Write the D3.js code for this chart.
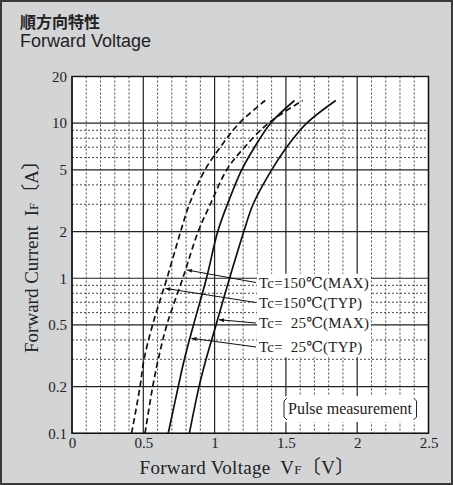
<!DOCTYPE html>
<html>
<head>
<meta charset="utf-8">
<script src="https://cdn.jsdelivr.net/npm/d3@7"></script>
<style>
  body { margin: 0; background: #d3d4d6; }
  svg { display: block; }
</style>
</head>
<body>
<svg id="chart" width="453" height="485"></svg>
<script>
const currents = [0.1, 0.2, 0.3, 0.5, 1, 2, 3, 5, 7, 10, 14];

// forward voltage of each curve at those currents (V)
const vf150Max = [0.512, 0.566, 0.605, 0.665, 0.777, 0.885, 0.97, 1.085, 1.21, 1.377, 1.618];
const vf150Typ = [0.418, 0.477, 0.505, 0.565, 0.666, 0.762, 0.823, 0.933, 1.04, 1.173, 1.355];
const vf25Max = [0.823, 0.891, 0.94, 1.01, 1.105, 1.205, 1.27, 1.4, 1.505, 1.646, 1.85];
const vf25Typ = [0.675, 0.745, 0.788, 0.852, 0.943, 1.022, 1.09, 1.19, 1.28, 1.393, 1.56];

const seriesNames = ["Tc=150℃(MAX)", "Tc=150℃(TYP)", "Tc=  25℃(MAX)", "Tc=  25℃(TYP)"];
const seriesValues = [vf150Max, vf150Typ, vf25Max, vf25Typ];
const seriesDashed = [true, true, false, false];
// current at which each leader line touches its curve (A)
const leaderCurrents = [1.13, 0.86, 0.54, 0.41];

const xTicks = [0, 0.5, 1, 1.5, 2, 2.5];
const xMinor = [0.1, 0.2, 0.3, 0.4, 0.6, 0.7, 0.8, 0.9, 1.1, 1.2, 1.3, 1.4,
  1.6, 1.7, 1.8, 1.9, 2.1, 2.2, 2.3, 2.4];
const yTicks = [0.1, 0.2, 0.5, 1, 2, 5, 10, 20];
const yMinor = [0.3, 0.4, 0.6, 0.7, 0.8, 0.9, 3, 4, 6, 7, 8, 9];

const svg = d3.select("#chart");
const W = 453, H = 485;
const plot = { left: 72, right: 428.5, top: 76.5, bottom: 433.3 };

const serif = "'Liberation Serif', 'DejaVu Serif', 'Noto Sans CJK JP', serif";
const ink = "#222";

// outer panel
svg.append("rect")
  .attr("x", 1).attr("y", 1)
  .attr("width", W - 2).attr("height", H - 2)
  .attr("fill", "#d3d4d6")
  .attr("stroke", "#3a3a3a")
  .attr("stroke-width", 2);

// titles
svg.append("text")
  .attr("x", 20).attr("y", 28)
  .style("font-family", "'Noto Sans CJK JP', sans-serif")
  .style("font-weight", "bold")
  .style("font-size", "16px")
  .style("fill", ink)
  .text("順方向特性");

svg.append("text")
  .attr("x", 20).attr("y", 47)
  .style("font-family", "'Liberation Sans', Arial, sans-serif")
  .style("font-size", "18px")
  .style("fill", ink)
  .text("Forward Voltage");

// scales
const x = d3.scaleLinear().domain([0, 2.5]).range([plot.left, plot.right]);
const y = d3.scaleLog().domain([0.1, 20]).range([plot.bottom, plot.top]);

// plot background
svg.append("rect")
  .attr("x", plot.left).attr("y", plot.top)
  .attr("width", plot.right - plot.left)
  .attr("height", plot.bottom - plot.top)
  .attr("fill", "#fff");

// grid
const grid = svg.append("g");
grid.selectAll(".xminor").data(xMinor).enter().append("line")
  .attr("x1", (d) => x(d)).attr("x2", (d) => x(d))
  .attr("y1", plot.top).attr("y2", plot.bottom)
  .attr("stroke", "#333").attr("stroke-width", 0.9)
  .attr("stroke-dasharray", "2,2");
grid.selectAll(".yminor").data(yMinor).enter().append("line")
  .attr("x1", plot.left).attr("x2", plot.right)
  .attr("y1", (d) => y(d)).attr("y2", (d) => y(d))
  .attr("stroke", "#333").attr("stroke-width", 0.9)
  .attr("stroke-dasharray", "2,2");
grid.selectAll(".xmajor").data(xTicks).enter().append("line")
  .attr("x1", (d) => x(d)).attr("x2", (d) => x(d))
  .attr("y1", plot.top).attr("y2", plot.bottom)
  .attr("stroke", ink).attr("stroke-width", 1.2);
grid.selectAll(".ymajor").data(yTicks).enter().append("line")
  .attr("x1", plot.left).attr("x2", plot.right)
  .attr("y1", (d) => y(d)).attr("y2", (d) => y(d))
  .attr("stroke", ink).attr("stroke-width", 1.2);

// curves
const line = d3.line()
  .x((d) => x(d[0]))
  .y((d) => y(d[1]))
  .curve(d3.curveCatmullRom.alpha(0.5));

svg.append("g").selectAll("path")
  .data(seriesValues)
  .enter().append("path")
  .attr("d", (vals) => line(vals.map((v, i) => [v, currents[i]])))
  .attr("fill", "none")
  .attr("stroke", "#111")
  .attr("stroke-width", 1.7)
  .attr("stroke-dasharray", (d, i) => (seriesDashed[i] ? "6,3.5" : null));

// labels with leader lines
svg.append("defs").append("marker")
  .attr("id", "arrow")
  .attr("viewBox", "0 0 10 10")
  .attr("refX", 10).attr("refY", 5)
  .attr("markerWidth", 6).attr("markerHeight", 5)
  .attr("markerUnits", "userSpaceOnUse")
  .attr("orient", "auto")
  .append("path")
  .attr("d", "M0,1 L10,5 L0,9 Z")
  .attr("fill", "#111");

const labelX = 259;
const labelRows = [282.5, 302.5, 323, 347];

const labelBg = svg.append("rect").attr("fill", "#fff");
const labels = svg.append("g");
seriesNames.forEach((name, i) => {
  labels.append("text")
    .attr("x", labelX).attr("y", labelRows[i])
    .attr("dy", "0.35em")
    .style("font-family", serif)
    .style("font-size", "15px")
    .style("letter-spacing", "0.2px")
    .style("fill", ink)
    .style("white-space", "pre")
    .text(name);
});
const lb = labels.node().getBBox();
labelBg
  .attr("x", lb.x - 2).attr("y", lb.y - 1)
  .attr("width", lb.width + 4).attr("height", lb.height + 2);

seriesNames.forEach((name, i) => {
  const vAt = d3.scaleLog().domain(currents).range(seriesValues[i]);
  const tipI = leaderCurrents[i];
  svg.append("line")
    .attr("x1", labelX - 3).attr("y1", labelRows[i])
    .attr("x2", x(vAt(tipI)) + 1.5).attr("y2", y(tipI))
    .attr("stroke", "#111")
    .attr("stroke-width", 1)
    .attr("marker-end", "url(#arrow)");
});

// pulse measurement note
const note = svg.append("g");
const noteText = note.append("text")
  .attr("x", 350).attr("y", 414)
  .attr("text-anchor", "middle")
  .style("font-family", serif)
  .style("font-size", "16px")
  .style("fill", ink)
  .text("Pulse measurement");
const nb = noteText.node().getBBox();
const nL = nb.x - 4, nR = nb.x + nb.width + 4, nT = nb.y - 2, nB = nb.y + nb.height + 3;
note.insert("rect", "text")
  .attr("x", nL - 2).attr("y", nT - 2)
  .attr("width", nR - nL + 4).attr("height", nB - nT + 4)
  .attr("fill", "#fff");
note.append("path")
  .attr("d", `M${nL + 3},${nT} L${nL},${nT + 3} L${nL},${nB - 3} L${nL + 3},${nB}` +
    ` M${nR - 3},${nT} L${nR},${nT + 3} L${nR},${nB - 3} L${nR - 3},${nB}`)
  .attr("fill", "none")
  .attr("stroke", ink)
  .attr("stroke-width", 1);

// plot frame
svg.append("rect")
  .attr("x", plot.left).attr("y", plot.top)
  .attr("width", plot.right - plot.left)
  .attr("height", plot.bottom - plot.top)
  .attr("fill", "none")
  .attr("stroke", "#111")
  .attr("stroke-width", 1.4);

// axes (labels only)
const fmt = (d) => String(d);
const xAxis = svg.append("g")
  .attr("transform", `translate(0,${plot.bottom})`)
  .call(d3.axisBottom(x).tickValues(xTicks).tickSize(0).tickPadding(4).tickFormat(fmt));
const yAxis = svg.append("g")
  .attr("transform", `translate(${plot.left},0)`)
  .call(d3.axisLeft(y).tickValues(yTicks).tickSize(0).tickPadding(5).tickFormat(fmt));
[xAxis, yAxis].forEach((g) => {
  g.select(".domain").remove();
  g.selectAll("text")
    .style("font-family", serif)
    .style("font-size", "15px")
    .style("fill", ink);
});

// axis titles
const xTitle = svg.append("text")
  .attr("x", 247).attr("y", 474)
  .attr("text-anchor", "middle")
  .style("font-family", serif)
  .style("font-size", "19px")
  .style("letter-spacing", "0.3px")
  .style("fill", ink)
  .style("white-space", "pre");
xTitle.append("tspan").text("Forward Voltage  V");
xTitle.append("tspan").style("font-size", "13px").text("F");
xTitle.append("tspan").text("〔V〕");

const yTitle = svg.append("text")
  .attr("transform", "translate(37.5,252) rotate(-90)")
  .attr("text-anchor", "middle")
  .style("font-family", serif)
  .style("font-size", "19px")
  .style("fill", ink)
  .style("white-space", "pre");
yTitle.append("tspan").text("Forward Current  I");
yTitle.append("tspan").style("font-size", "13px").text("F");
yTitle.append("tspan").text("〔A〕");
</script>
</body>
</html>
